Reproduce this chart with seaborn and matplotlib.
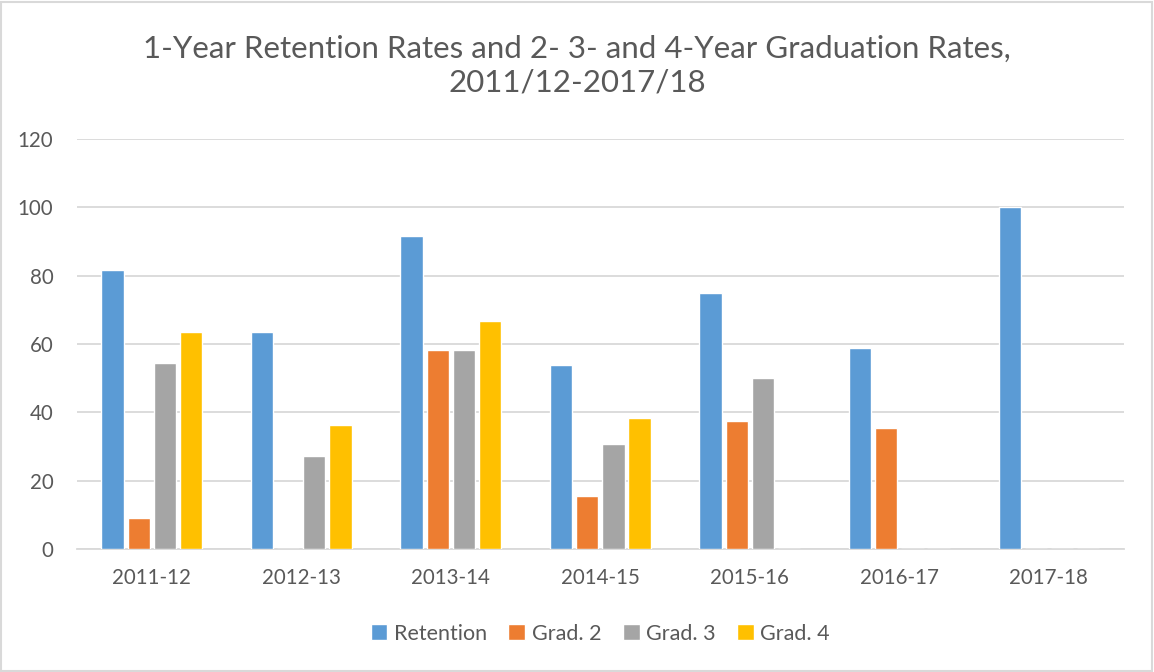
import matplotlib
matplotlib.use("Agg")
import matplotlib.pyplot as plt
import seaborn as sns
import pandas as pd
from matplotlib.patches import Rectangle

# data
years = ["2011-12", "2012-13", "2013-14", "2014-15", "2015-16", "2016-17", "2017-18"]
retention = [81.8, 63.6, 91.7, 53.8, 75.0, 58.8, 100.0]
grad2 = [9.1, 0, 58.3, 15.4, 37.5, 35.3, 0]
grad3 = [54.5, 27.3, 58.3, 30.8, 50.0, 0, 0]
grad4 = [63.6, 36.4, 66.7, 38.5, 0, 0, 0]
series = ["Retention", "Grad. 2", "Grad. 3", "Grad. 4"]
colors = ["#5B9BD5", "#ED7D31", "#A5A5A5", "#FFC000"]

df = pd.DataFrame({"year": years, "Retention": retention, "Grad. 2": grad2,
                   "Grad. 3": grad3, "Grad. 4": grad4})
long = df.melt(id_vars="year", var_name="series", value_name="rate")

sns.set_style("white")
plt.rcParams["font.family"] = ["Lato", "DejaVu Sans"]
text_col = "#595959"

fig = plt.figure(figsize=(11.54, 6.72), dpi=100)
ax = fig.add_axes([0.0667, 0.183, 0.907, 0.610])

sns.barplot(data=long, x="year", y="rate", hue="series", hue_order=series,
            palette=colors, width=0.7, gap=0.15, saturation=1, ax=ax, zorder=3)

ax.set_ylim(0, 120)
ax.set_yticks(range(0, 121, 20))
ax.grid(axis="y", color="#D9D9D9", linewidth=1.3, zorder=0)
ax.set_axisbelow(True)
for s in ["top", "right", "left"]:
    ax.spines[s].set_visible(False)
ax.spines["bottom"].set_color("#D9D9D9")
ax.spines["bottom"].set_linewidth(1.3)
ax.set_xlabel("")
ax.set_ylabel("")
ax.tick_params(axis="both", length=0, labelsize=14.8, labelcolor=text_col)
ax.tick_params(axis="x", pad=14)
ax.tick_params(axis="y", pad=17)

fig.text(0.5, 0.902, "1-Year Retention Rates and 2- 3- and 4-Year Graduation Rates,\n2011/12-2017/18",
         ha="center", va="center", fontsize=22.5, color=text_col, linespacing=1.25)

ax.legend(loc="center", bbox_to_anchor=(0.5, -0.207), ncol=4, frameon=False,
          fontsize=15.5, labelcolor=text_col, handlelength=0.78, handleheight=0.78,
          handletextpad=0.3, columnspacing=1.0)

fig.patches.append(Rectangle((0.001, 0.002), 0.997, 0.995, transform=fig.transFigure,
                             fill=False, edgecolor="#D9D9D9", linewidth=1.5))

fig.savefig("out.png", dpi=100, facecolor="white")
